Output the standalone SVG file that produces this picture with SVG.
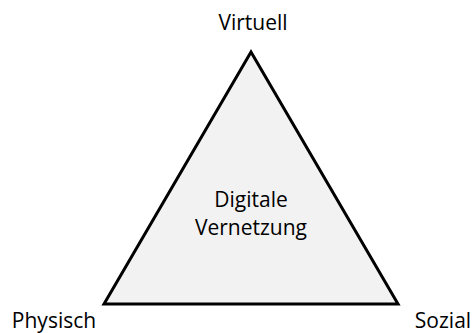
<svg xmlns="http://www.w3.org/2000/svg" width="472" height="333" viewBox="0 0 472 333">
<style>
text{font-family:"Open Sans","Liberation Sans",sans-serif;font-size:21px;fill:#000;text-anchor:middle}
</style>
<rect width="472" height="333" fill="#fff"/>
<g id="triangle">
<polygon points="251,52 104,304 398,304" fill="#f2f2f2" stroke="#000" stroke-width="3" stroke-linejoin="miter"/>
<text x="251" y="207">Digitale</text>
<text x="251" y="235">Vernetzung</text>
</g>
<g id="virtuell"><text x="253" y="30">Virtuell</text></g>
<g id="physisch"><text x="54" y="328">Physisch</text></g>
<g id="sozial"><text x="443" y="328">Sozial</text></g>
<g id="connectors"/>
</svg>
